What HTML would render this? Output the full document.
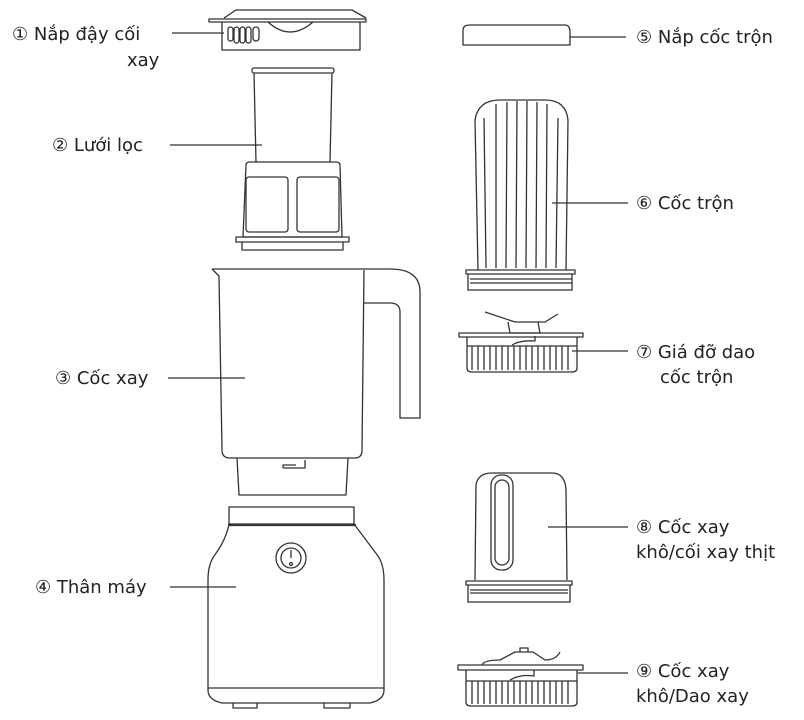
<!DOCTYPE html>
<html><head><meta charset="utf-8"><style>
html,body{margin:0;padding:0;background:#fff;}
svg{display:block}
text{font-family:"DejaVu Sans","Liberation Sans",sans-serif;font-size:18px;fill:#222;}
</style></head><body>
<svg width="804" height="720" viewBox="0 0 804 720" xmlns="http://www.w3.org/2000/svg">
<g fill="none" stroke="#333" stroke-width="1.3" stroke-linejoin="round">
<!-- 1 lid -->
<path d="M224 18 L236 10 L352 10 L366 18"/>
<rect x="209" y="19" width="157" height="3"/>
<path d="M222 22 V50 H360 V22"/>
<path d="M268 22 Q290 42 313 22"/>
<rect x="228" y="27" width="5" height="14" rx="2.5"/><rect x="234" y="27" width="5" height="16" rx="2.5"/><rect x="240" y="27" width="5" height="16" rx="2.5"/><rect x="246" y="27" width="5" height="16" rx="2.5"/><rect x="253" y="27" width="6" height="14" rx="3"/>
<!-- 2 filter -->
<rect x="252" y="68" width="82" height="5" rx="2"/>
<path d="M254 73 L256 162 M332 73 L330 162"/>
<path d="M246 165 Q246 162 250 162 H336 Q340 162 340 165 L342 237 H243 Z"/>
<rect x="246" y="177" width="42" height="55" rx="3"/><rect x="297" y="177" width="42" height="55" rx="3"/>
<rect x="236" y="237" width="113" height="5"/>
<path d="M242 242 V250 H343 V242"/>
<!-- 3 jug -->
<path d="M212 269 H390 Q420 269 420 292 V418 H400 V312 Q400 303 390 303 H364"/>
<path d="M212 269 L219 276 L222 450 Q222 458 230 458 H355 Q362 458 362 450 L364 270"/>
<path d="M237 458 L239 495 H346 L348 458"/>
<path d="M283 468 H305 V460 M283 468 V465 H296"/>
<!-- 4 base -->
<path d="M229 507 H354 V524 H229 Z"/>
<line x1="228" y1="525" x2="356" y2="525" stroke-width="2.2"/>
<path d="M229 524 Q226 540 214 556 Q208 565 208 580 V690 Q208 700 222 703 H370 Q384 700 384 690 V580 Q384 565 378 556 Q366 540 354 524"/>
<path d="M208 688 H384"/>
<path d="M233 703 V708 H257 V703 M324 703 V708 H350 V703"/>
<circle cx="291" cy="558" r="15"/><circle cx="291" cy="558" r="10"/>
<path d="M291 550 V558"/><circle cx="291" cy="564" r="1.5"/>
<!-- 5 lid -->
<path d="M463 30 Q463 25 470 25 H565 Q570 25 570 32 V45 H463 Z"/>
<!-- 6 cup -->
<path d="M478 270 L475 120 Q478 100 500 100 H545 Q566 100 568 120 L566 270"/>
<path d="M486 268 L484 118 M496 268 L496 104 M506 268 L507 102 M516 268 L517 101 M526 268 L527 101 M536 268 L537 102 M546 268 L547 104 M556 268 L558 118"/>
<rect x="466" y="270" width="109" height="4"/>
<path d="M468 274 V290 H572 V274 M470 279 H572 M470 283 H572"/>
<!-- 7 -->
<path d="M485 312 L515 322 L545 322 L558 314 M508 322 L510 333 H540 L538 322"/>
<rect x="459" y="333" width="124" height="4"/>
<path d="M467 337 V368 Q467 372 472 372 H572 Q577 372 577 368 V337"/>
<path d="M472 346 V370 M478 346 V370 M484 346 V370 M490 346 V370 M496 346 V370 M502 346 V370 M508 346 V370 M514 346 V370 M520 346 V370 M526 346 V370 M532 346 V370 M538 346 V370 M544 346 V370 M550 346 V370 M556 346 V370 M562 346 V370 M568 346 V370 M467 346 H577"/>
<path d="M512 345 Q520 340 535 341 V336"/>
<!-- 8 -->
<path d="M475 580 L476 485 Q478 473 492 473 H552 Q565 473 566 490 L567 580"/>
<rect x="491" y="475" width="22" height="95" rx="10"/><rect x="495" y="480" width="14" height="85" rx="7"/>
<rect x="466" y="581" width="106" height="4"/>
<path d="M468 585 V602 H570 V585 M470 590 H568 M470 593 H568"/>
<!-- 9 -->
<path d="M482 665 Q484 660 500 660 L515 652 H533 L545 660 Q556 660 560 652 M520 652 V648 H528 V652"/>
<rect x="458" y="665" width="125" height="5"/>
<path d="M466 670 V702 Q466 706 471 706 H572 Q577 706 577 702 V670"/>
<path d="M472 681 V704 M478 681 V704 M484 681 V704 M490 681 V704 M496 681 V704 M502 681 V704 M508 681 V704 M514 681 V704 M520 681 V704 M526 681 V704 M532 681 V704 M538 681 V704 M544 681 V704 M550 681 V704 M556 681 V704 M562 681 V704 M568 681 V704 M466 681 H577"/>
<path d="M510 680 Q520 674 534 676 V670"/>
</g>
<g stroke="#333" stroke-width="1.2">
<line x1="172" y1="33" x2="224" y2="33"/>
<line x1="170" y1="145" x2="262" y2="145"/>
<line x1="168" y1="378" x2="245" y2="378"/>
<line x1="170" y1="587" x2="236" y2="587"/>
<line x1="570" y1="37" x2="626" y2="37"/>
<line x1="552" y1="203" x2="628" y2="203"/>
<line x1="572" y1="351" x2="628" y2="351"/>
<line x1="548" y1="527" x2="628" y2="527"/>
<line x1="578" y1="673" x2="628" y2="673"/>
</g>
<text x="12" y="40">① Nắp đậy cối</text>
<text x="127" y="66">xay</text>
<text x="52" y="151">② Lưới lọc</text>
<text x="55" y="384">③ Cốc xay</text>
<text x="35" y="593">④ Thân máy</text>
<text x="636" y="43">⑤ Nắp cốc trộn</text>
<text x="636" y="209">⑥ Cốc trộn</text>
<text x="636" y="358">⑦ Giá đỡ dao</text>
<text x="660" y="383">cốc trộn</text>
<text x="636" y="533">⑧ Cốc xay</text>
<text x="636" y="558">khô/cối xay thịt</text>
<text x="636" y="677">⑨ Cốc xay</text>
<text x="636" y="702">khô/Dao xay</text>
</svg>
</body></html>
